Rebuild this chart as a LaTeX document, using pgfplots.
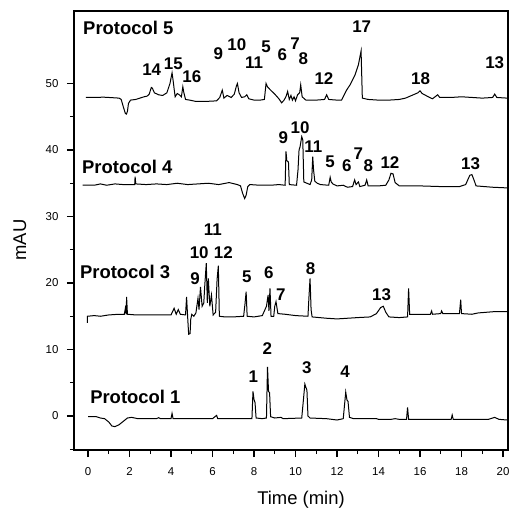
\documentclass[border=0pt]{standalone}
\usepackage{fontspec}
\setmainfont{Liberation Sans}
\usepackage{pgfplots}
\pgfplotsset{compat=1.18}
\begin{document}
\begin{tikzpicture}
\begin{axis}[
 at={(0,0)}, anchor=south west,
 width=434bp, height=439bp, scale only axis,
 xmin=-0.675, xmax=20.24, ymin=-5.11, ymax=60.9,
 xtick={0,2,...,20}, minor xtick={1,3,...,19},
 ytick={0,10,...,50}, minor ytick={-5,5,15,25,35,45},
 tick align=outside, xtick pos=bottom, ytick pos=left,
 major tick length=7bp, minor tick length=4bp,
 every tick/.style={black, line width=1.2bp},
 axis line style={line width=1.6bp},
 /pgf/number format/assume math mode=true,
 ticklabel style={font=\fontsize{11.5}{13}\selectfont},
 xticklabel style={yshift=-7bp},
 yticklabel style={xshift=-5bp},
 xlabel={Time (min)}, ylabel={mAU},
 label style={font=\fontsize{18.5}{20}\selectfont},
 xlabel style={at={(axis description cs:0.523,0)}, anchor=north, yshift=-38bp},
 ylabel style={at={(axis description cs:0,0.478)}, anchor=center, yshift=54bp},
 clip=true,
]
% Protocol 5
\addplot[black, line width=1bp] coordinates {
(-0.1,47.9)(0.5,47.9)(0.7,47.95)(1.0,47.9)(1.5,47.8)(1.6,47.6)(1.7,46.5)(1.8,45.5)(1.85,45.4)(1.9,45.8)(1.95,47.0)(2.05,47.5)(2.3,47.6)(2.5,47.8)(2.7,48.0)(2.85,48.1)(2.95,48.4)(3.05,49.4)(3.1,49.3)(3.2,48.6)(3.4,48.3)(3.6,48.2)(3.8,48.6)(3.95,50.0)(4.05,51.6)(4.1,50.5)(4.15,49.2)(4.2,48.0)(4.3,48.5)(4.4,48.3)(4.5,48.0)(4.57,49.5)(4.62,48.6)(4.7,47.6)(4.9,47.5)(5.2,47.3)(5.6,47.3)(6.0,47.35)(6.2,47.4)(6.35,47.9)(6.47,49.0)(6.55,47.8)(6.7,48.2)(6.9,47.9)(7.05,48.4)(7.15,49.6)(7.2,50.0)(7.28,48.6)(7.4,47.9)(7.55,48.0)(7.65,48.3)(7.75,47.7)(8.0,47.5)(8.3,47.5)(8.5,47.6)(8.58,50.0)(8.65,49.5)(8.8,49.0)(9.0,48.4)(9.2,47.7)(9.33,47.1)(9.45,47.5)(9.55,48.1)(9.62,48.8)(9.7,47.6)(9.78,48.2)(9.85,47.5)(9.93,48.0)(10.0,47.4)(10.1,48.3)(10.2,48.6)(10.25,49.8)(10.32,48.0)(10.5,47.5)(11.0,47.5)(11.4,47.6)(11.5,48.3)(11.6,47.6)(12.0,47.5)(12.22,47.5)(12.46,49.0)(12.63,49.8)(12.87,51.3)(13.03,52.8)(13.16,54.9)(13.22,47.8)(13.5,47.6)(14,47.5)(14.5,47.5)(15.0,47.6)(15.3,47.8)(15.6,48.2)(15.9,48.6)(16.0,48.9)(16.1,48.5)(16.4,48.0)(16.6,47.7)(16.85,48.3)(16.95,47.9)(17.5,47.9)(18.0,48.0)(18.5,47.9)(19.0,47.8)(19.5,47.9)(19.6,48.4)(19.7,47.9)(20.2,47.8)
};
% Protocol 4
\addplot[black, line width=1bp] coordinates {
(-0.26,34.7)(0.3,34.7)(0.6,34.9)(0.9,34.7)(1.3,34.9)(1.7,34.8)(2.25,34.8)(2.27,36.0)(2.3,34.9)(2.8,34.8)(3.3,34.9)(3.8,34.8)(4.3,35.0)(4.8,34.8)(5.3,34.9)(5.8,35.0)(6.3,34.8)(6.8,35.1)(7.2,34.8)(7.35,34.6)(7.45,33.5)(7.55,32.7)(7.62,33.2)(7.7,34.5)(7.8,34.8)(8.3,34.7)(8.8,34.7)(9.2,34.8)(9.5,34.7)(9.54,39.8)(9.58,38.4)(9.66,38.2)(9.7,34.8)(10.05,34.7)(10.12,37.0)(10.17,40.0)(10.22,40.5)(10.3,42.0)(10.35,41.5)(10.4,35.2)(10.7,34.8)(10.78,35.5)(10.83,39.0)(10.87,37.0)(10.93,35.3)(11.05,35.0)(11.2,34.8)(11.6,34.7)(11.67,35.9)(11.72,35.2)(11.8,34.9)(12.0,34.6)(12.3,34.7)(12.5,34.4)(12.75,34.5)(12.85,35.5)(12.92,34.8)(13.03,35.2)(13.1,34.5)(13.35,34.7)(13.43,35.5)(13.5,34.6)(14.0,34.6)(14.35,34.7)(14.5,35.5)(14.6,36.5)(14.7,36.4)(14.8,35.1)(15.0,34.6)(16,34.6)(17,34.5)(17.9,34.5)(18.2,34.8)(18.4,36.2)(18.5,36.3)(18.6,35.5)(18.7,34.6)(19.5,34.4)(20.2,34.3)
};
% Protocol 3
\addplot[black, line width=1bp] coordinates {
(-0.03,14.0)(-0.03,15.0)(0.3,15.1)(0.6,15.0)(1.0,15.2)(1.5,15.3)(1.75,15.3)(1.8,16.2)(1.84,15.3)(1.86,17.9)(1.9,15.3)(2.3,15.2)(3,15.2)(4.0,15.2)(4.15,16.2)(4.25,15.3)(4.35,16.0)(4.45,15.3)(4.7,15.2)(4.75,17.9)(4.8,15.0)(4.85,12.3)(4.92,12.4)(4.95,14.5)(5.0,15.3)(5.1,15.0)(5.2,15.5)(5.3,17.7)(5.35,16.0)(5.42,19.4)(5.5,16.5)(5.58,17.0)(5.62,19.3)(5.7,23.0)(5.75,17.0)(5.8,20.7)(5.87,16.5)(5.95,18.2)(6.03,15.2)(6.15,15.6)(6.22,20.5)(6.28,22.6)(6.33,15.0)(6.6,14.9)(7.0,14.9)(7.5,15.0)(7.57,17.0)(7.62,18.7)(7.67,15.0)(8.0,14.9)(8.4,15.1)(8.6,16.5)(8.68,18.2)(8.72,15.8)(8.77,19.2)(8.82,15.0)(8.95,15.0)(9.0,16.5)(9.06,17.2)(9.15,15.4)(9.5,15.3)(10.0,15.1)(10.6,15.0)(10.65,18.0)(10.7,20.7)(10.75,16.0)(10.8,14.9)(11.5,14.7)(12.0,14.6)(13.0,14.8)(13.6,14.9)(13.9,15.4)(14.1,16.3)(14.23,16.5)(14.35,15.6)(14.5,14.9)(15.0,14.8)(15.4,14.9)(15.45,19.2)(15.5,15.3)(16.0,15.3)(16.5,15.3)(16.56,15.8)(16.6,15.3)(17.0,15.4)(17.04,15.8)(17.1,15.4)(17.9,15.4)(17.96,17.5)(18.0,15.4)(18.5,15.3)(18.8,15.5)(19.2,15.6)(19.6,15.7)(20.2,15.7)
};
% Protocol 1
\addplot[black, line width=1bp] coordinates {
(0,-0.1)(0.4,-0.1)(0.6,-0.3)(0.8,-0.4)(1.0,-0.9)(1.15,-1.5)(1.3,-1.6)(1.5,-1.3)(1.7,-0.8)(1.9,-0.3)(2.1,-0.2)(2.4,-0.4)(3.0,-0.4)(3.3,-0.4)(3.4,-0.25)(3.5,-0.4)(4.0,-0.4)(4.05,0.4)(4.1,-0.4)(5,-0.4)(6,-0.4)(6.2,0.1)(6.25,-0.4)(7.5,-0.4)(7.9,-0.4)(7.95,3.7)(8.0,2.5)(8.05,2.0)(8.1,-0.3)(8.4,-0.4)(8.6,-0.3)(8.65,7.4)(8.7,3.7)(8.75,3.5)(8.8,-0.1)(9.0,-0.3)(9.3,-0.2)(9.4,-0.4)(10.3,-0.3)(10.45,4.8)(10.5,4.3)(10.55,3.9)(10.6,0.0)(10.7,-0.3)(11.5,-0.4)(12.0,-0.6)(12.3,-0.4)(12.42,3.6)(12.48,2.4)(12.53,2.2)(12.6,-0.2)(12.8,-0.4)(13.9,-0.4)(14.0,-0.5)(14.6,-0.5)(14.8,-0.4)(15.0,-0.5)(15.35,-0.5)(15.4,1.3)(15.45,-0.5)(17.5,-0.5)(17.55,0.15)(17.6,-0.5)(19.3,-0.5)(19.6,-0.2)(19.8,-0.5)(20.2,-0.6)
};
\begin{scope}[every node/.style={font=\fontsize{18.5}{20}\selectfont\bfseries, inner sep=0pt}]
\node[anchor=west] at (axis cs:-0.24,58.3) {Protocol 5};
\node[anchor=west] at (axis cs:-0.29,37.4) {Protocol 4};
\node[anchor=west] at (axis cs:-0.39,21.6) {Protocol 3};
\node[anchor=west] at (axis cs:0.1,2.8) {Protocol 1};
\end{scope}
\begin{scope}[every node/.style={font=\fontsize{17}{19}\selectfont\bfseries, inner sep=0pt}]
% P5
\node at (axis cs:3.07,52.1) {14};
\node at (axis cs:4.11,53.0) {15};
\node at (axis cs:5.0,51.1) {16};
\node at (axis cs:6.28,54.5) {9};
\node at (axis cs:7.17,55.8) {10};
\node at (axis cs:8.0,53.1) {11};
\node at (axis cs:8.58,55.5) {5};
\node at (axis cs:9.37,54.3) {6};
\node at (axis cs:9.98,56.0) {7};
\node at (axis cs:10.38,53.8) {8};
\node at (axis cs:11.37,50.7) {12};
\node at (axis cs:13.19,58.5) {17};
\node at (axis cs:16.03,50.7) {18};
\node at (axis cs:19.6,53.2) {13};
% P4
\node at (axis cs:9.41,41.8) {9};
\node at (axis cs:10.22,43.3) {10};
\node at (axis cs:10.86,40.5) {11};
\node at (axis cs:11.66,38.2) {5};
\node at (axis cs:12.47,37.7) {6};
\node at (axis cs:13.03,39.5) {7};
\node at (axis cs:13.51,37.6) {8};
\node at (axis cs:14.55,38.1) {12};
\node at (axis cs:18.44,38.0) {13};
% P3
\node at (axis cs:5.16,20.7) {9};
\node at (axis cs:5.36,24.6) {10};
\node at (axis cs:6.01,28.0) {11};
\node at (axis cs:6.52,24.5) {12};
\node at (axis cs:7.65,20.9) {5};
\node at (axis cs:8.72,21.5) {6};
\node at (axis cs:9.29,18.3) {7};
\node at (axis cs:10.73,22.2) {8};
\node at (axis cs:14.15,18.3) {13};
% P1
\node at (axis cs:7.97,5.9) {1};
\node at (axis cs:8.64,10.2) {2};
\node at (axis cs:10.54,7.3) {3};
\node at (axis cs:12.39,6.7) {4};
\end{scope}
\end{axis}
\pgfresetboundingbox
\path[use as bounding box] (-74bp,-58bp) rectangle (435bp,450bp);
\end{tikzpicture}
\end{document}
